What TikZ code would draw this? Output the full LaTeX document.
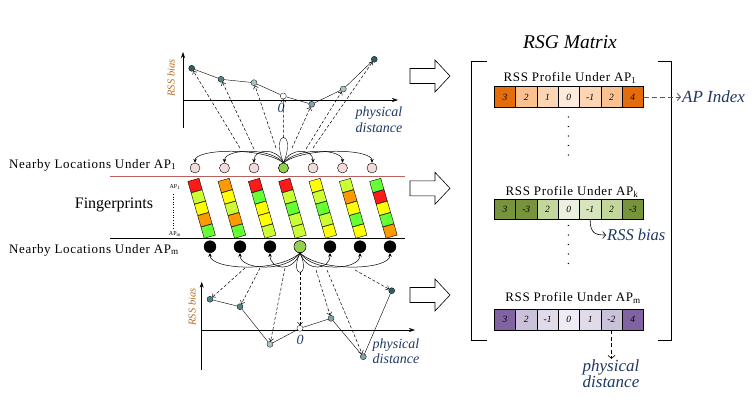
\documentclass[tikz,border=0pt]{standalone}
\usepackage{fontspec}
\setmainfont{Liberation Serif}
\usetikzlibrary{arrows.meta}

\definecolor{ptdark}{HTML}{2F5F64}
\definecolor{ptmid}{HTML}{4F8589}
\definecolor{ptgray}{HTML}{7FA3A6}
\definecolor{ptlight}{HTML}{A9C2C4}
\definecolor{navy}{HTML}{1F3864}
\definecolor{biascol}{HTML}{B46A1E}
\definecolor{locpink}{HTML}{F2DCDB}
\definecolor{locgreen}{HTML}{92D050}
\definecolor{redline}{HTML}{B9625E}
\definecolor{fred}{HTML}{FF1A1A}
\definecolor{forg}{HTML}{FF9900}
\definecolor{fyel}{HTML}{FFFF00}
\definecolor{flime}{HTML}{CCFF33}
\definecolor{fgrn}{HTML}{66FF33}
\definecolor{oa}{HTML}{E46C0A}
\definecolor{ob}{HTML}{FAC090}
\definecolor{oc}{HTML}{FCD5B5}
\definecolor{od}{HTML}{FDEADA}
\definecolor{ga}{HTML}{77933C}
\definecolor{gb}{HTML}{C3D69B}
\definecolor{gc}{HTML}{D7E4BD}
\definecolor{gd}{HTML}{EBF1DE}
\definecolor{va}{HTML}{8064A2}
\definecolor{vb}{HTML}{CCC1DA}
\definecolor{vc}{HTML}{E0DAE9}
\definecolor{vd}{HTML}{EFEBF4}

\tikzset{
  loc/.style={circle, draw, inner sep=0pt, minimum size=10pt, fill=locpink, line width=0.4pt},
  locm/.style={circle, draw, inner sep=0pt, minimum size=12pt, fill=black, line width=0.4pt},
  pt/.style={circle, draw, inner sep=0pt, minimum size=6pt, line width=0.3pt},
  fcell/.style={draw, inner sep=0pt, minimum size=11.6pt, line width=0.4pt, rotate=16},
  mcell/.style={draw, inner sep=0pt, minimum width=21.3pt, minimum height=20.7pt, line width=0.6pt,
    font=\fontsize{9.5}{10}\selectfont\itshape},
  arc/.style={-{Stealth[length=4pt,width=3.5pt]}, line width=0.5pt},
  dasharrow/.style={dashed, dash pattern=on 3pt off 2pt, -{Straight Barb[length=2.5pt,width=5pt]}, line width=0.5pt},
  axis/.style={-{Stealth[length=6pt,width=4pt]}, line width=0.6pt},
  plotlab/.style={font=\fontsize{14}{15.5}\selectfont\itshape, text=navy, align=center, inner sep=0pt},
  biaslab/.style={font=\fontsize{10.5}{11}\selectfont\itshape, text=biascol, rotate=90, inner sep=0pt},
  proflab/.style={font=\fontsize{13}{13}\selectfont\addfontfeature{LetterSpace=5}, inner sep=0pt},
  bigarrow/.style={draw, line width=0.6pt, fill=white}
}

\begin{document}
\begin{tikzpicture}[x=1pt, y=-1pt]
\useasboundingbox (0,0) rectangle (756,407);

% upper plot
\draw[axis] (183,128) -- (183,52);
\draw[axis] (183,100) -- (398,100);
\node[biaslab] (bias1) at (171,78) {RSS bias};
\node[plotlab] (zero1) at (281,108) {0};
\node[plotlab] (dist1) at (379,119.5) {physical\\distance};

\node[pt, fill=ptdark] (p1) at (191.7,68.3) {};
\node[pt, fill=ptmid] (p2) at (221,79.3) {};
\node[pt, fill=ptlight] (p3) at (254,82.7) {};
\node[pt, fill=white] (p4) at (283.3,96) {};
\node[pt, fill=ptgray] (p5) at (311.7,104.3) {};
\node[pt, fill=ptlight] (p6) at (343.3,89) {};
\node[pt, fill=ptdark] (p7) at (374.3,59.3) {};
\draw (p1) -- (p2) -- (p3) -- (p4) -- (p5) -- (p6) -- (p7);

% nearby locations under AP1
\foreach \x [count=\i] in {195,224.5,254,283.5,313,342.5,372}
  \node[loc] (t\i) at (\x,168) {};
\node[loc, fill=locgreen] at (t4) {};
\foreach \i in {1,2,3,5,6,7}
  \draw[arc] (t4.north) .. controls +({(\i-4)*7},-16) and +(0,-14) .. (t\i.north);
\draw (t4.north) .. controls +(-14,-34) and +(14,-34) .. (t4.north);
\coordinate (s1) at (240,148);
\coordinate (s2) at (254,149);
\coordinate (s3) at (276,148);
\coordinate (s4) at (283.5,137.5);
\coordinate (s5) at (292,148);
\coordinate (s6) at (306,149);
\coordinate (s7) at (313,148);
\foreach \i in {1,...,7}
  \draw[dasharrow] (s\i) -- (p\i);

\draw[redline, line width=0.6pt] (110,176.7) -- (405,176.7);
\draw[line width=0.6pt] (110,238.3) -- (405,238.3);

% fingerprints
\foreach \c [count=\i from 0] in {{fred,flime,fyel,forg,fgrn},{forg,fyel,flime,forg,fgrn},
    {fred,fgrn,fyel,fyel,flime},{fred,flime,fgrn,flime,flime},{fyel,flime,fgrn,flime,fyel},
    {flime,forg,fyel,fgrn,fyel},{fgrn,fred,fyel,fgrn,forg}}{
  \foreach \f [count=\j from 0] in \c
    \node[fcell, fill=\f] (f\i\j) at (195+30.3*\i+3.3*\j, 185.5+11.4*\j) {};
}
\node[font=\fontsize{6}{6}\selectfont, inner sep=0pt] (ap1) at (175,187) {AP\textsubscript{1}};
\node[font=\fontsize{6}{6}\selectfont, inner sep=0pt] (apm) at (175,234) {AP\textsubscript{m}};
\draw[dotted, line width=0.6pt] (173.5,194) -- (173.5,228);
\node[font=\fontsize{16}{16}\selectfont] (fp) at (114,205) {Fingerprints};
\node[proflab, anchor=west] (near1) at (9,165) {Nearby Locations Under AP\textsubscript{1}};
\node[proflab, anchor=west] (nearm) at (9,250) {Nearby Locations Under AP\textsubscript{m}};

% nearby locations under APm
\foreach \x [count=\i] in {210,240,270,300,330,360,390}
  \node[locm] (b\i) at (\x,246.7) {};
\node[locm, fill=locgreen] at (b4) {};
\foreach \i in {1,2,3,5,6,7}
  \draw[arc] (b4.south) .. controls +({(\i-4)*7},20) and +(0,17) .. (b\i.south);
\draw (b4.south) .. controls +(-12,26) and +(12,26) .. (b4.south);

% lower plot
\draw[axis] (201.7,370) -- (201.7,281.7);
\draw[axis] (201.7,330) -- (415,330);
\node[biaslab] (bias2) at (192,307) {RSS bias};
\node[plotlab] (zero2) at (300,339.5) {0};
\node[plotlab] (dist2) at (396,351) {physical\\distance};

\node[pt, fill=ptmid] (q1) at (210,299.3) {};
\node[pt, fill=ptmid] (q2) at (240,306.7) {};
\node[pt, fill=ptlight] (q3) at (270,344.3) {};
\node[pt, fill=white] (q4) at (300,328.3) {};
\node[pt, fill=ptgray] (q5) at (331,318.3) {};
\node[pt, fill=ptgray] (q6) at (363.3,356.7) {};
\node[pt, fill=ptdark] (q7) at (391.7,290.7) {};
\draw (q1) -- (q2) -- (q3) -- (q4) -- (q5) -- (q6) -- (q7);
\coordinate (u1) at (245,268);
\coordinate (u2) at (260,268);
\coordinate (u3) at (285,268);
\coordinate (u4) at (300,272);
\coordinate (u5) at (316,270);
\coordinate (u6) at (327,270);
\coordinate (u7) at (355,270);
\foreach \i in {1,...,7}
  \draw[dasharrow] (u\i) -- (q\i);

% hollow arrows
\foreach \y in {76,188.3,295}
  \draw[bigarrow] (410,\y-7.5) -- (435,\y-7.5) -- (435,\y-16) -- (450,\y)
    -- (435,\y+16) -- (435,\y+7.5) -- (410,\y+7.5) -- cycle;

% RSG matrix
\node[font=\fontsize{19.5}{19}\selectfont\itshape] (rsg) at (570,42) {RSG Matrix};
\draw[line width=1pt] (486.7,61.7) -- (471.7,61.7) -- (471.7,340) -- (486.7,340);
\draw[line width=1pt] (658.3,61.7) -- (671.7,61.7) -- (671.7,340) -- (658.3,340);

\node[proflab] (prof1) at (570,78) {RSS Profile Under AP\textsubscript{1}};
\foreach \v/\fc [count=\i] in {3/oa,2/ob,1/oc,0/od,-1/oc,2/ob,4/oa}
  \node[mcell, fill=\fc] (a\i) at (483.65+21.3*\i,97) {\v};
\node[font=\fontsize{17}{17}\selectfont\itshape, text=navy, anchor=west, inner sep=1pt] (apidx) at (681,97) {AP Index};
\draw[dashed, dash pattern=on 5pt off 3pt, draw=black!65, line width=0.9pt,
  -{Straight Barb[length=3pt,width=7pt]}] (a7.east) -- (apidx.west);
\foreach \y in {117,126.5,136,145.5,155}
  \fill (568.3,\y) circle (0.7pt);

\node[proflab] (profk) at (572,192) {RSS Profile Under AP\textsubscript{k}};
\foreach \v/\fc [count=\i] in {3/ga,-3/ga,2/gb,0/gd,-1/gc,2/gb,-3/ga}
  \node[mcell, fill=\fc] (k\i) at (483.65+21.3*\i,209.2) {\v};
\node[font=\fontsize{16.5}{16}\selectfont\itshape, text=navy, anchor=west, inner sep=1pt] (rssb) at (606,235) {RSS bias};
\draw[line width=0.6pt, -{Straight Barb[length=3pt,width=7pt]}]
  (k5.south) .. controls +(0,14) and +(-10,0) .. (rssb.west);
\foreach \y in {225.5,235,244.5,254,263.5}
  \fill (568.3,\y) circle (0.7pt);

\node[proflab] (profm) at (573,298) {RSS Profile Under AP\textsubscript{m}};
\foreach \v/\fc [count=\i] in {3/va,2/vb,-1/vc,0/vd,1/vc,-2/vb,4/va}
  \node[mcell, fill=\fc] (m\i) at (483.65+21.3*\i,319.5) {\v};
\node[font=\fontsize{17}{16}\selectfont\itshape, text=navy, align=center, inner sep=1pt] (phd) at (611,374) {physical\\distance};
\draw[dashed, dash pattern=on 4pt off 2.5pt, line width=0.6pt,
  -{Straight Barb[length=3pt,width=7pt]}] (m6.south) -- (phd.north -| m6.south);

\end{tikzpicture}
\end{document}
